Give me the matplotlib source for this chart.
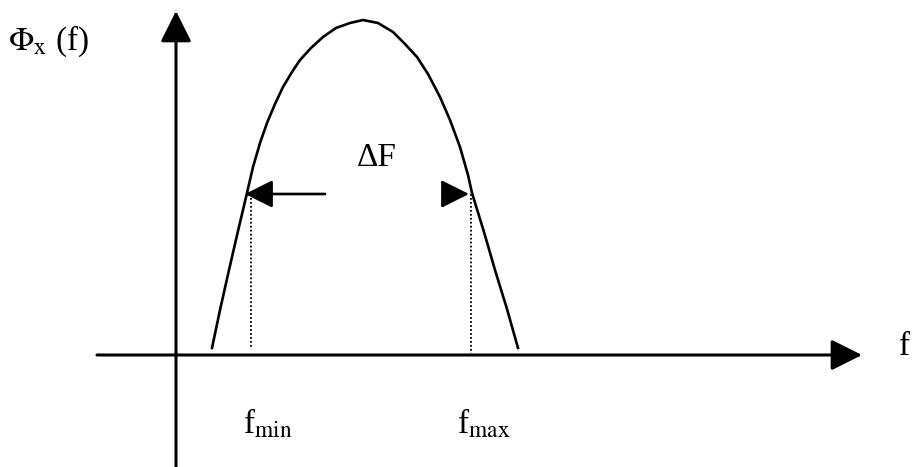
import matplotlib
matplotlib.use("Agg")
import matplotlib.pyplot as plt

plt.rcParams['font.family'] = ['Liberation Serif', 'DejaVu Serif']
plt.rcParams['mathtext.fontset'] = 'stix'

# spectrum curve, left foot -> peak -> right foot (x, y in drawing units, y grows downward)
curve_x = [212, 220, 229, 238, 247, 253, 260, 267, 275, 283, 292, 300, 311, 323,
           336, 350, 363, 378, 393, 405, 417, 428, 440, 450, 460, 468, 472, 484, 495, 507, 518]
curve_y = [348, 310, 270, 231, 193, 167, 143, 123, 104, 87, 72, 60, 48, 37,
           28, 23, 20, 23, 32, 44, 57, 74, 97, 120, 147, 175, 193, 232, 270, 309, 348]

# band limits and axis geometry
f_min, f_max = 251, 471
band_level = 194
baseline = 355
origin_x = 176
x_axis = (97, 862)
y_axis = (467, 11)

fig = plt.figure(figsize=(9.13, 4.67), dpi=100)
ax = fig.add_axes([0, 0, 1, 1])
ax.set_xlim(0, 913)
ax.set_ylim(467, 0)
ax.axis('off')

head = dict(arrowstyle='-|>,head_length=19,head_width=9.5', color='black',
            lw=2.2, shrinkA=0, shrinkB=0, mutation_scale=1)

# axes with arrow heads
ax.annotate('', xy=(x_axis[1], baseline), xytext=(x_axis[0], baseline), arrowprops=head)
ax.annotate('', xy=(origin_x, y_axis[1]), xytext=(origin_x, y_axis[0]), arrowprops=head)

# the spectrum
ax.plot(curve_x, curve_y, color='black', lw=1.9, solid_joinstyle='round')

# dotted drops at the band edges
ax.plot([f_min, f_min], [band_level, baseline - 6], color='black', lw=1.3, ls=(0, (1, 1.2)))
ax.plot([f_max, f_max], [band_level, baseline - 2], color='black', lw=1.3, ls=(0, (1, 1.2)))

# bandwidth arrows
small = dict(arrowstyle='-|>,head_length=17,head_width=8.5', color='black',
             lw=1.9, shrinkA=0, shrinkB=0, mutation_scale=1)
ax.annotate('', xy=(f_min - 6, band_level), xytext=(325, band_level), arrowprops=small)
ax.annotate('', xy=(f_max - 2, band_level), xytext=(443, band_level), arrowprops=small)

# labels
fs = 24
ax.text(8, 50, r'$\Phi_\mathrm{x}$ (f)', fontsize=fs, va='baseline', ha='left')
ax.text(899, 355, 'f', fontsize=fs, va='baseline', ha='left')
ax.text(357, 166, 'ΔF', fontsize=fs, va='baseline', ha='left')
ax.text(243, 433, r'f$_\mathrm{min}$', fontsize=fs, va='baseline', ha='left')
ax.text(457, 433, r'f$_\mathrm{max}$', fontsize=fs, va='baseline', ha='left')

fig.savefig('out.png', dpi=100)
